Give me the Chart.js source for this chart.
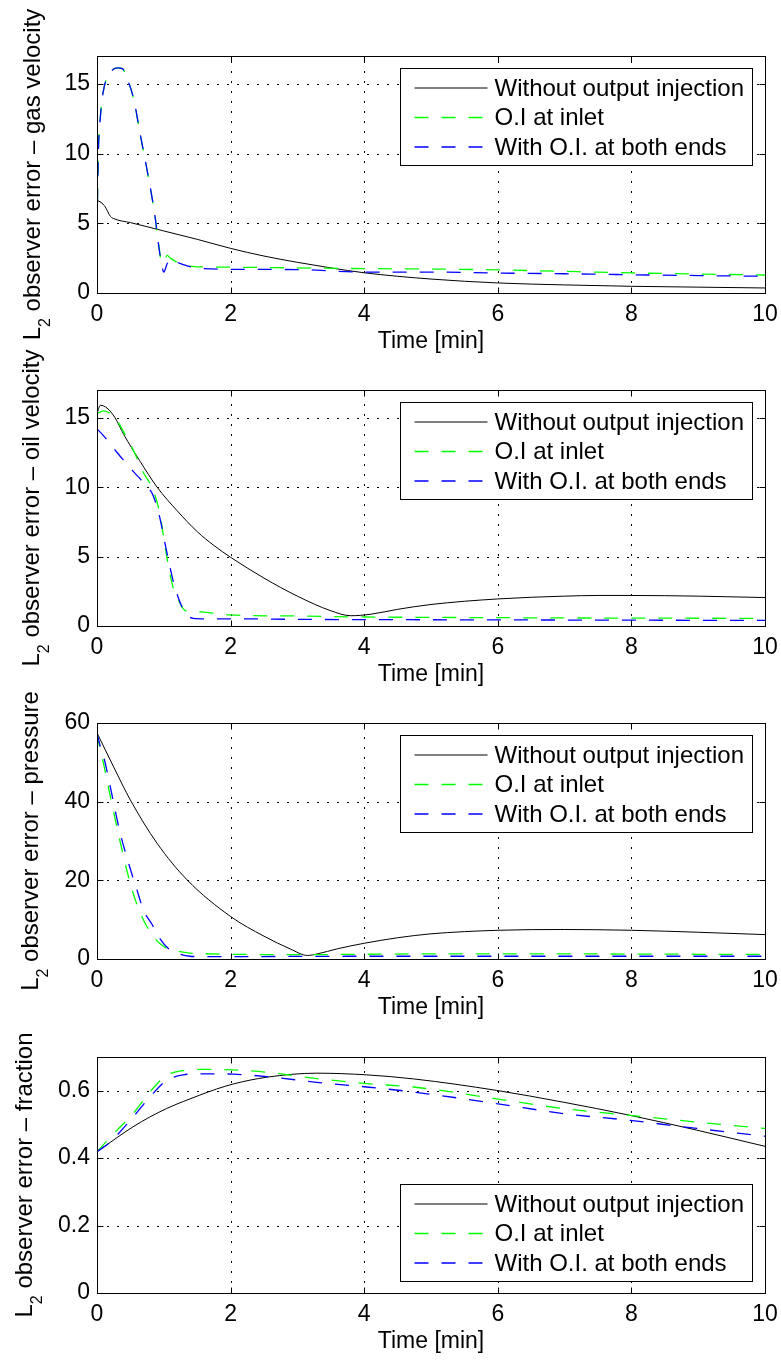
<!DOCTYPE html>
<html>
<head>
<meta charset="utf-8">
<script src="https://cdn.jsdelivr.net/npm/chart.js@4.4.1/dist/chart.umd.min.js"></script>
<style>
  html, body { margin: 0; padding: 0; background: #fff; }
  #wrap { position: relative; width: 781px; height: 1360px; }
  canvas { position: absolute; left: 0; top: 0; }
</style>
</head>
<body>
<div id="wrap">
  <canvas id="gas" width="781" height="1360"></canvas>
  <canvas id="oil" width="781" height="1360"></canvas>
  <canvas id="pres" width="781" height="1360"></canvas>
  <canvas id="frac" width="781" height="1360"></canvas>
</div>
<script>
const FONT = '"Liberation Sans", Arial, Helvetica, sans-serif';
const seriesNames = ['Without output injection', 'O.I at inlet', 'With O.I. at both ends'];
const seriesColors = ['#000000', '#00ff00', '#0000ff'];
const timeTicks = [0, 2, 4, 6, 8, 10];

// gas velocity
const gasTimeBlack = [0, 0.06, 0.12, 0.2, 0.27, 0.5, 1, 1.5, 2, 2.5, 3, 3.5, 4, 5, 6, 7, 8, 9, 10];
const gasBlack     = [6.65, 6.5, 6.2, 5.5, 5.3, 5.05, 4.45, 3.85, 3.2, 2.65, 2.2, 1.8, 1.45, 1.0, 0.72, 0.58, 0.48, 0.42, 0.36];
const gasTime  = [0, 0.02, 0.05, 0.1, 0.2, 0.3, 0.38, 0.45, 0.55, 0.65, 0.77, 0.87, 0.92, 0.97, 1.0, 1.05, 1.1, 1.2, 1.35, 1.5, 2, 3, 4, 5, 6, 7, 8, 9, 10];
const gasInlet = [4.6, 10, 12.6, 14.6, 15.8, 16.15, 16.1, 15.4, 13.9, 11.3, 8.3, 5.45, 3.6, 2.2, 2.2, 2.7, 2.5, 2.2, 1.95, 1.88, 1.85, 1.8, 1.75, 1.72, 1.66, 1.55, 1.44, 1.36, 1.29];
const gasBoth  = [4.5, 10, 12.6, 14.6, 15.8, 16.15, 16.1, 15.4, 13.9, 11.3, 8.3, 5.45, 3.5, 2.0, 1.5, 2.1, 2.45, 2.2, 1.95, 1.78, 1.7, 1.68, 1.5, 1.5, 1.43, 1.38, 1.31, 1.25, 1.2];
const gasTicks = [0, 5, 10, 15];

// oil velocity
const oilTimeBlack = [0, 0.05, 0.15, 0.27, 0.4, 0.64, 0.9, 1.2, 1.5, 1.75, 2.0, 2.5, 3.0, 3.5, 3.8, 4.1, 4.5, 5, 6, 7, 7.5, 8, 9, 10];
const oilBlack     = [15.3, 15.9, 15.7, 15.0, 13.8, 11.9, 10.0, 8.3, 6.8, 5.8, 4.95, 3.45, 2.15, 1.1, 0.74, 0.85, 1.2, 1.55, 1.95, 2.15, 2.2, 2.2, 2.15, 2.05];
const oilTime  = [0, 0.1, 0.2, 0.3, 0.44, 0.55, 0.7, 0.84, 0.94, 1.02, 1.09, 1.15, 1.22, 1.27, 1.32, 1.44, 1.6, 2, 3, 4, 5, 6, 7, 8, 9, 10];
const oilInlet = [15.3, 15.5, 15.3, 14.8, 13.6, 12.6, 11.0, 9.8, 8.1, 5.7, 3.8, 2.6, 1.85, 1.4, 1.1, 1.05, 1.0, 0.8, 0.72, 0.65, 0.62, 0.6, 0.58, 0.57, 0.56, 0.55];
const oilBoth  = [14.2, 13.7, 13.1, 12.5, 11.7, 11.1, 10.3, 9.4, 7.8, 5.9, 4.3, 3.05, 2.0, 1.4, 0.95, 0.55, 0.52, 0.52, 0.48, 0.46, 0.45, 0.44, 0.43, 0.42, 0.41, 0.4];
const oilTicks = [0, 5, 10, 15];

// pressure
const presTimeBlack = [0, 0.25, 0.5, 0.9, 1.35, 2, 2.5, 2.9, 3.15, 3.3, 3.6, 4, 4.5, 5, 6, 7, 8, 9, 10];
const presBlack     = [57.5, 48.8, 40.4, 29.4, 20.1, 10.8, 5.8, 2.5, 0.9, 1.3, 2.6, 4.0, 5.4, 6.4, 7.3, 7.5, 7.3, 6.8, 6.2];
const presTime  = [0, 0.05, 0.1, 0.19, 0.34, 0.47, 0.59, 0.7, 0.82, 0.95, 1.06, 1.2, 1.39, 1.6, 2, 3, 4, 5, 6, 7, 8, 9, 10];
const presInlet = [57.5, 53, 49.5, 42.1, 30.3, 21.0, 14.2, 9.8, 6.2, 3.8, 2.6, 2.0, 1.5, 1.35, 1.2, 1.1, 1.2, 1.3, 1.3, 1.3, 1.25, 1.2, 1.15];
const presBoth  = [57.5, 54, 51.4, 44.5, 32.5, 24.5, 18.0, 12.3, 8.9, 5.0, 2.8, 1.5, 0.7, 0.6, 0.6, 0.65, 0.7, 0.7, 0.7, 0.7, 0.7, 0.7, 0.7];
const presTicks = [0, 20, 40, 60];

// fraction
const fracTime  = [0, 0.2, 0.3, 0.54, 0.79, 1.04, 1.29, 1.54, 1.79, 2.04, 2.54, 3.29, 4.04, 4.74, 5.98, 6.98, 7.98, 8.98, 10];
const fracBlack = [0.419, 0.447, 0.461, 0.493, 0.522, 0.547, 0.568, 0.587, 0.605, 0.620, 0.640, 0.652, 0.647, 0.635, 0.601, 0.566, 0.527, 0.483, 0.435];
const fracInlet = [0.419, 0.462, 0.483, 0.532, 0.596, 0.645, 0.660, 0.663, 0.663, 0.662, 0.655, 0.636, 0.621, 0.611, 0.576, 0.547, 0.527, 0.507, 0.488];
const fracBoth  = [0.419, 0.448, 0.468, 0.522, 0.581, 0.630, 0.647, 0.650, 0.650, 0.649, 0.642, 0.625, 0.611, 0.596, 0.562, 0.532, 0.512, 0.488, 0.465];
const fracTicks = [0, 0.2, 0.4, 0.6];

function points(ts, vs) {
    return ts.map((t, i) => ({x: t, y: vs[i]}));
}

// matlab style box, dotted grid, inner ticks, legend and axis titles
const panelPlugin = {
    id: 'panel',
    beforeDatasetsDraw(chart) {
        const {ctx, chartArea: a, scales: {x, y}} = chart;
        ctx.save();
        ctx.strokeStyle = '#000';
        ctx.lineWidth = 1;
        ctx.setLineDash([2, 8]);
        ctx.beginPath();
        x.ticks.forEach(t => {
            if (t.value <= x.min || t.value >= x.max) return;
            const p = Math.round(x.getPixelForValue(t.value)) + 0.5;
            ctx.moveTo(p, a.bottom);
            ctx.lineTo(p, a.top);
        });
        y.ticks.forEach(t => {
            if (t.value <= y.min || t.value >= y.max) return;
            const p = Math.round(y.getPixelForValue(t.value)) + 0.5;
            ctx.moveTo(a.left, p);
            ctx.lineTo(a.right, p);
        });
        ctx.stroke();
        ctx.restore();
    },
    afterDraw(chart, args, o) {
        const {ctx, chartArea: a, scales: {x, y}} = chart;
        ctx.save();
        ctx.strokeStyle = '#000';
        ctx.lineWidth = 1;
        ctx.setLineDash([]);
        const L = Math.round(a.left) + 0.5, R = Math.round(a.right) + 0.5;
        const T = Math.round(a.top) + 0.5, B = Math.round(a.bottom) + 0.5;
        ctx.strokeRect(L, T, R - L, B - T);
        ctx.beginPath();
        x.ticks.forEach(t => {
            const p = Math.round(x.getPixelForValue(t.value)) + 0.5;
            ctx.moveTo(p, B); ctx.lineTo(p, B - 6);
            ctx.moveTo(p, T); ctx.lineTo(p, T + 6);
        });
        y.ticks.forEach(t => {
            const p = Math.round(y.getPixelForValue(t.value)) + 0.5;
            ctx.moveTo(L, p); ctx.lineTo(L + 6, p);
            ctx.moveTo(R, p); ctx.lineTo(R - 6, p);
        });
        ctx.stroke();

        // legend
        const bw = 352, bh = 97;
        const bx = Math.round(a.right - 13 - bw) + 0.5;
        const by = Math.round(o.legendAt === 'top' ? a.top + 12 : a.bottom - 12 - bh) + 0.5;
        ctx.fillStyle = '#fff';
        ctx.fillRect(bx, by, bw, bh);
        ctx.strokeRect(bx, by, bw, bh);
        ctx.font = '24px ' + FONT;
        ctx.textBaseline = 'middle';
        ctx.textAlign = 'left';
        const rows = [19.5, 49, 78.5];
        seriesNames.forEach((name, i) => {
            const ry = by + rows[i];
            ctx.strokeStyle = seriesColors[i];
            ctx.lineWidth = i === 0 ? 1 : 1.3;
            ctx.setLineDash(i === 0 ? [] : [14, 13]);
            ctx.beginPath();
            ctx.moveTo(bx + 14, ry);
            ctx.lineTo(bx + 87, ry);
            ctx.stroke();
            ctx.fillStyle = '#000';
            ctx.fillText(name, bx + 94, ry + 1);
        });

        // x title
        ctx.font = '23px ' + FONT;
        ctx.textAlign = 'center';
        ctx.textBaseline = 'alphabetic';
        ctx.fillText('Time [min]', (a.left + a.right) / 2, a.bottom + 55);

        // y title with subscript
        ctx.translate(o.titleX, (a.top + a.bottom) / 2);
        ctx.rotate(-Math.PI / 2);
        const rest = ' observer error \u2013 ' + o.yTitle;
        ctx.font = '24px ' + FONT;
        const wL = ctx.measureText('L').width;
        const wR = ctx.measureText(rest).width;
        ctx.font = '16px ' + FONT;
        const w2 = ctx.measureText('2').width;
        let s = -(wL + w2 + wR) / 2;
        ctx.textAlign = 'left';
        ctx.font = '24px ' + FONT;
        ctx.fillText('L', s, 0);
        ctx.font = '16px ' + FONT;
        ctx.fillText('2', s + wL, 10);
        ctx.font = '24px ' + FONT;
        ctx.fillText(rest, s + wL + w2, 0);
        ctx.restore();
    }
};

function makePanel(id, p) {
    const datasets = [
        {data: points(p.tBlack, p.black), borderColor: seriesColors[0], borderWidth: 1, order: 3},
        {data: points(p.t, p.inlet), borderColor: seriesColors[1], borderWidth: 1.3, borderDash: [14, 13], order: 2},
        {data: points(p.t, p.both), borderColor: seriesColors[2], borderWidth: 1.3, borderDash: [14, 13], order: 1}
    ].map((d, i) => Object.assign(d, {
        label: seriesNames[i],
        pointRadius: 0,
        fill: false,
        cubicInterpolationMode: 'monotone'
    }));
    const tickFont = {family: FONT, size: 23};
    new Chart(document.getElementById(id), {
        type: 'line',
        data: {datasets: datasets},
        plugins: [panelPlugin],
        options: {
            responsive: false,
            animation: false,
            devicePixelRatio: 1,
            layout: {padding: {left: 0, right: 16, top: p.top, bottom: 1360 - p.bottom - 40}},
            scales: {
                x: {
                    type: 'linear', min: 0, max: 10,
                    afterBuildTicks: s => { s.ticks = timeTicks.map(v => ({value: v})); },
                    afterFit: s => { s.height = 40; s.paddingLeft = 0; s.paddingRight = 0; },
                    grid: {display: false, drawTicks: false},
                    border: {display: false},
                    ticks: {font: tickFont, color: '#000', padding: 8, maxRotation: 0, autoSkip: false}
                },
                y: {
                    type: 'linear', min: 0, max: p.yMax,
                    afterBuildTicks: s => { s.ticks = p.yTicks.map(v => ({value: v})); },
                    afterFit: s => { s.width = 97; s.paddingTop = 0; s.paddingBottom = 0; },
                    grid: {display: false, drawTicks: false},
                    border: {display: false},
                    ticks: {font: tickFont, color: '#000', padding: 7, autoSkip: false}
                }
            },
            plugins: {
                legend: {display: false},
                tooltip: {enabled: false},
                panel: {yTitle: p.yTitle, titleX: p.titleX, legendAt: p.legendAt}
            }
        }
    });
}

makePanel('gas', {top: 56, bottom: 293, yMax: 17, yTicks: gasTicks, yTitle: 'gas velocity', titleX: 39.5, legendAt: 'top',
    tBlack: gasTimeBlack, black: gasBlack, t: gasTime, inlet: gasInlet, both: gasBoth});
makePanel('oil', {top: 390, bottom: 626, yMax: 17, yTicks: oilTicks, yTitle: 'oil velocity', titleX: 38.5, legendAt: 'top',
    tBlack: oilTimeBlack, black: oilBlack, t: oilTime, inlet: oilInlet, both: oilBoth});
makePanel('pres', {top: 723, bottom: 959, yMax: 60, yTicks: presTicks, yTitle: 'pressure', titleX: 38, legendAt: 'top',
    tBlack: presTimeBlack, black: presBlack, t: presTime, inlet: presInlet, both: presBoth});
makePanel('frac', {top: 1057, bottom: 1293, yMax: 0.7, yTicks: fracTicks, yTitle: 'fraction', titleX: 32, legendAt: 'bottom',
    tBlack: fracTime, black: fracBlack, t: fracTime, inlet: fracInlet, both: fracBoth});
</script>
</body>
</html>
